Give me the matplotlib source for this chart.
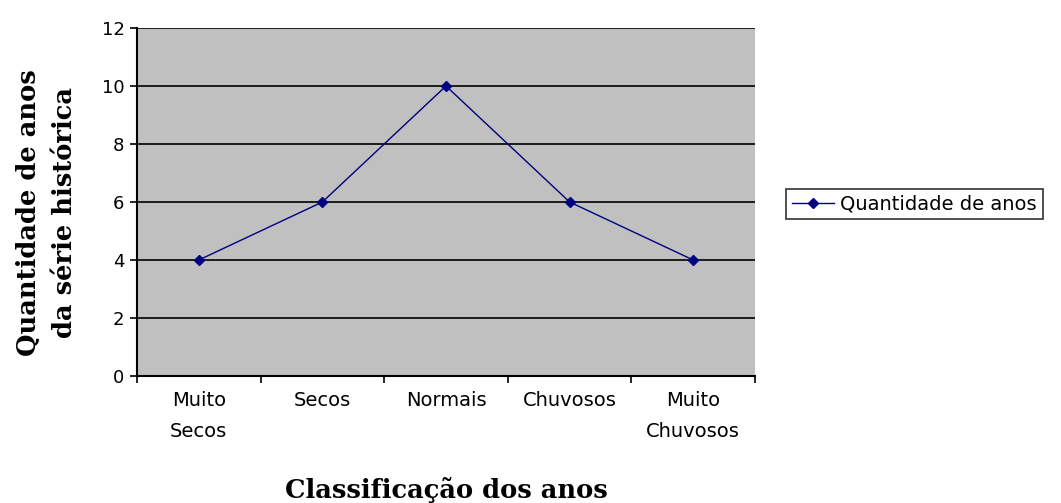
import matplotlib
matplotlib.use("Agg")
import matplotlib.pyplot as plt

# data
categorias = ["Muito\nSecos", "Secos", "Normais", "Chuvosos", "Muito\nChuvosos"]
quantidade = [4, 6, 10, 6, 4]
y_ticks = [0, 2, 4, 6, 8, 10, 12]

fig = plt.figure(figsize=(10.61, 5.03), dpi=100)
ax = fig.add_axes([137/1061, 1 - 376/503, (755 - 137)/1061, (376 - 28)/503])
ax.set_facecolor("#C0C0C0")

x = list(range(len(categorias)))
line, = ax.plot(x, quantidade, color="#000080", lw=1, marker="D", markersize=5,
                label="Quantidade de anos")

ax.set_xlim(-0.5, len(categorias) - 0.5)
ax.set_ylim(0, 12)
ax.set_yticks(y_ticks)
ax.yaxis.grid(True, color="black", lw=1.2)
ax.set_axisbelow(True)

# category ticks sit on the boundaries, labels in the middle
ax.set_xticks([i - 0.5 for i in range(len(categorias) + 1)])
ax.set_xticklabels([])
ax.set_xticks(x, minor=True)
ax.set_xticklabels(categorias, minor=True, fontsize=14, linespacing=1.75)
ax.tick_params(axis="x", which="minor", length=0, pad=11)
ax.tick_params(axis="x", which="major", length=5, direction="out", width=1.2)
ax.tick_params(axis="y", length=5, direction="out", width=1.2, labelsize=13, pad=4)

for s in ["top", "right"]:
    ax.spines[s].set_visible(False)
for s in ["left", "bottom"]:
    ax.spines[s].set_linewidth(1.5)

ax.set_ylabel("Quantidade de anos\nda série histórica", family="DejaVu Serif",
              fontsize=18.5, weight="semibold", linespacing=1.55, va="center")
ax.yaxis.set_label_coords(-0.147, 0.47)
ax.set_xlabel("Classificação dos anos", family="DejaVu Serif", fontsize=18.5,
              weight="semibold", va="center")
ax.xaxis.set_label_coords(0.5, -0.328)

leg = fig.legend(handles=[line], loc="center left", bbox_to_anchor=(776/1061, 1 - 204/503),
                 fontsize=14, frameon=True, fancybox=False, edgecolor="black",
                 handlelength=2.2, borderpad=0.3, handletextpad=0.3)
leg.get_frame().set_linewidth(1.2)

fig.savefig("out.png", dpi=100)
